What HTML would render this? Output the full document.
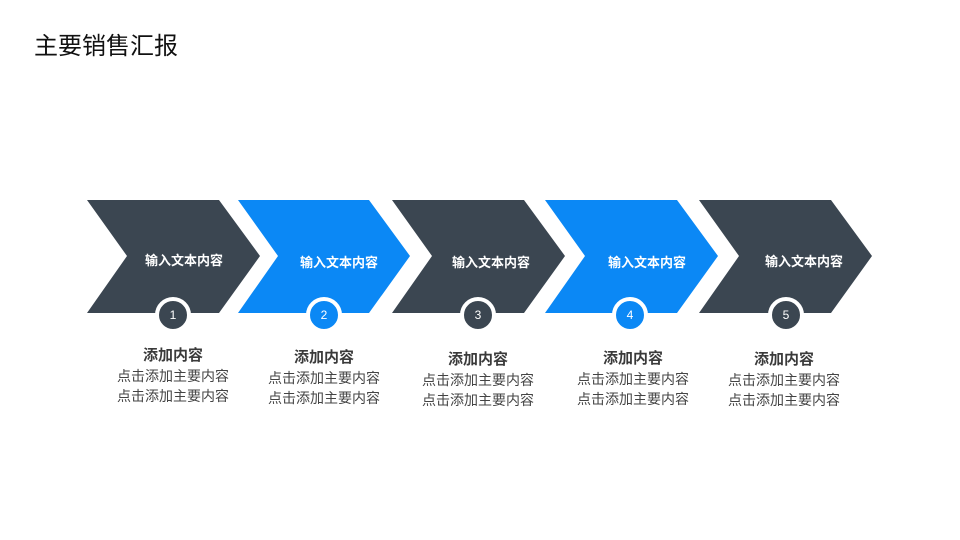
<!DOCTYPE html>
<html><head><meta charset="utf-8"><style>
body{margin:0;width:960px;height:540px;background:#fff;position:relative;overflow:hidden;font-family:"Liberation Sans","Noto Sans CJK SC",sans-serif}
.t{position:absolute;left:34px;top:26px;font-size:24px;color:#111}
.lbl{position:absolute;color:#fff;font-size:13px;font-weight:bold;width:140px;text-align:center}
.c{position:absolute;width:28px;height:28px;border-radius:50%;border:4px solid #fff;color:#fff;font-size:12px;text-align:center;line-height:28px}
.d{position:absolute;width:160px;text-align:center;color:#444;font-size:14px;line-height:20px}
.d b{font-size:15px;color:#3a3a3a;display:block;line-height:20px}
</style></head><body>
<div class="t">主要销售汇报</div>
<svg width="960" height="540" style="position:absolute;left:0;top:0">
<polygon points="87,200 219,200 260,256 219,313 87,313 127,256" fill="#3b4651"/>
<polygon points="238,200 369,200 410,256 369,313 238,313 278,256" fill="#0b88f5"/>
<polygon points="392,200 524,200 565,256 524,313 392,313 432,256" fill="#3b4651"/>
<polygon points="545,200 677,200 718,256 677,313 545,313 585,256" fill="#0b88f5"/>
<polygon points="699,200 831,200 872,256 831,313 699,313 739,256" fill="#3b4651"/>
</svg>
<div class="lbl" style="left:114px;top:250px">输入文本内容</div>
<div class="lbl" style="left:269px;top:252px">输入文本内容</div>
<div class="lbl" style="left:421px;top:252px">输入文本内容</div>
<div class="lbl" style="left:577px;top:252px">输入文本内容</div>
<div class="lbl" style="left:734px;top:251px">输入文本内容</div>
<div class="c" style="left:155px;top:297px;background:#3b4651">1</div>
<div class="c" style="left:306px;top:297px;background:#0b88f5">2</div>
<div class="c" style="left:460px;top:297px;background:#3b4651">3</div>
<div class="c" style="left:612px;top:297px;background:#0b88f5">4</div>
<div class="c" style="left:768px;top:297px;background:#3b4651">5</div>
<div class="d" style="left:93px;top:346px"><b>添加内容</b>点击添加主要内容<br>点击添加主要内容</div>
<div class="d" style="left:244px;top:348px"><b>添加内容</b>点击添加主要内容<br>点击添加主要内容</div>
<div class="d" style="left:398px;top:350px"><b>添加内容</b>点击添加主要内容<br>点击添加主要内容</div>
<div class="d" style="left:553px;top:349px"><b>添加内容</b>点击添加主要内容<br>点击添加主要内容</div>
<div class="d" style="left:704px;top:350px"><b>添加内容</b>点击添加主要内容<br>点击添加主要内容</div>
</body></html>
